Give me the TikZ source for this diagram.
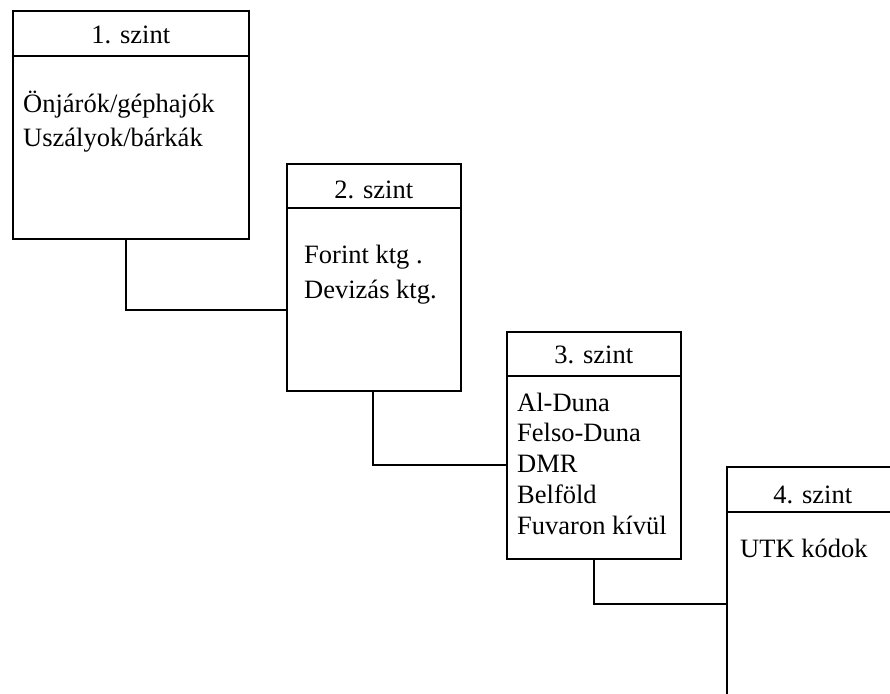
\documentclass[tikz,border=0pt]{standalone}
\usepackage{fontspec}
\setmainfont{Liberation Serif}
\begin{document}
\begin{tikzpicture}[x=1pt,y=-1pt,
  levelbox/.style={draw, line width=1.6pt, anchor=north west, inner sep=0pt},
  headtext/.style={font=\fontsize{26.5}{30}\selectfont, anchor=base, inner sep=0pt},
  bodytext/.style={font=\fontsize{26.5}{30}\selectfont, anchor=base west, inner sep=0pt},
  link/.style={line width=1.6pt}]
\useasboundingbox (0,0) rectangle (890,693);
\clip (0,0) rectangle (890,693);

% level boxes
\node[levelbox, minimum width=236pt, minimum height=228pt] (b1) at (12,10) {};
\node[levelbox, minimum width=174pt, minimum height=227pt] (b2) at (286,163) {};
\node[levelbox, minimum width=174pt, minimum height=227pt] (b3) at (506,331) {};
\node[levelbox, minimum width=172pt, minimum height=240pt] (b4) at (726,466) {};

% header separators
\draw[link] ([yshift=-46pt]b1.north west) -- ([yshift=-46pt]b1.north east);
\draw[link] ([yshift=-45pt]b2.north west) -- ([yshift=-45pt]b2.north east);
\draw[link] ([yshift=-45pt]b3.north west) -- ([yshift=-45pt]b3.north east);
\draw[link] ([yshift=-46pt]b4.north west) -- ([yshift=-46pt]b4.north east);

% headers
\node[headtext] (h1) at ([yshift=-34pt]b1.north) {1. szint};
\node[headtext] (h2) at ([yshift=-35pt]b2.north) {2. szint};
\node[headtext] (h3) at ([yshift=-32pt]b3.north) {3. szint};
\node[headtext] (h4) at ([yshift=-37pt]b4.north) {4. szint};

% contents
\node[bodytext] (t1a) at (23,112) {Önjárók/géphajók};
\node[bodytext] (t1b) at (23,146) {Uszályok/bárkák};

\node[bodytext] (t2a) at (304,263) {Forint ktg .};
\node[bodytext] (t2b) at (304,298) {Devizás ktg.};

\node[bodytext] (t3a) at (517,411) {Al-Duna};
\node[bodytext] (t3b) at (517,441) {Felso-Duna};
\node[bodytext] (t3c) at (517,472) {DMR};
\node[bodytext] (t3d) at (517,503) {Belföld};
\node[bodytext] (t3e) at (517,534) {Fuvaron kívül};

\node[bodytext] (t4a) at (740,557) {UTK kódok};

% connectors between levels
\draw[link] (126,0 |- b1.south) |- (b2.west |- 0,310);
\draw[link] (373,0 |- b2.south) |- (b3.west |- 0,465);
\draw[link] (594,0 |- b3.south) |- (b4.west |- 0,604);
\end{tikzpicture}
\end{document}
